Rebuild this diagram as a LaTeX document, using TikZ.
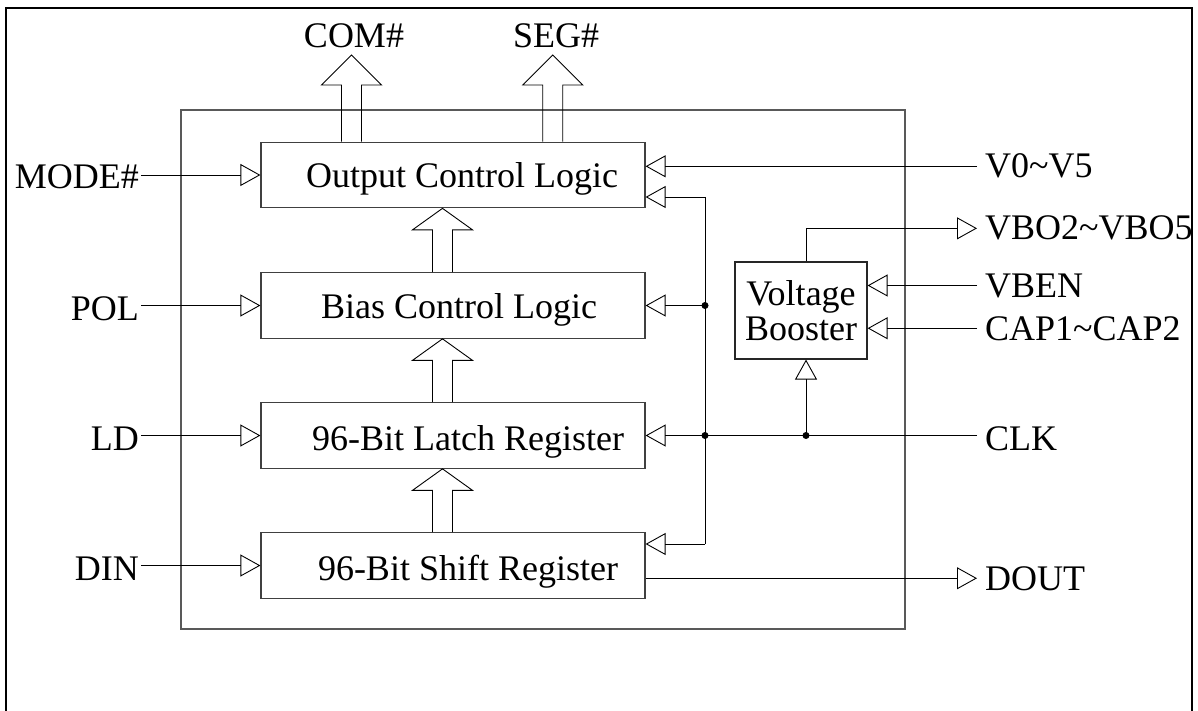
\documentclass[tikz,border=0pt]{standalone}
\usepackage{fontspec}
\setmainfont{Liberation Serif}
\usetikzlibrary{arrows.meta,calc}
\newcommand\fatarrow[3]{%
  \draw[fatline] ($(#1)+(-10,0)$) -- ($(#2)+(-10,#3)$) -- ($(#2)+(-30,#3)$) -- (#2)
    -- ($(#2)+(30,#3)$) -- ($(#2)+(10,#3)$) -- ($(#1)+(10,0)$);}
\begin{document}
\begin{tikzpicture}[x=1pt,y=-1pt,
  font=\fontsize{36}{35}\selectfont,
  blockbox/.style={draw=black!75, line width=1.2pt, minimum width=384pt, minimum height=65.5pt, inner sep=0pt},
  boostbox/.style={draw=black!85, line width=1.2pt, minimum width=132pt, minimum height=97pt, inner sep=0pt, align=center},
  chipbox/.style={draw=black!65, line width=1.2pt, minimum width=724pt, minimum height=519pt, inner sep=0pt},
  btext/.style={anchor=base, inner sep=0pt},
  llabel/.style={anchor=base east, inner sep=0pt, inner xsep=2pt},
  rlabel/.style={anchor=base west, inner sep=0pt, inner xsep=8pt},
  tri/.style={-{Triangle[open,length=20pt,width=22pt]}, line width=0.9pt},
  wire/.style={line width=0.9pt},
  fatline/.style={line width=0.9pt, line join=miter},
  dot/.style={fill=black}
]
\useasboundingbox (0,0) rectangle (1198,711);
% outer frame
\draw[line width=1.5pt] (6,711) -- (6,8) -- (1192,8) -- (1192,711);
% chip
\node[chipbox] (chip) at (543,369.5) {};
% blocks
\node[blockbox] (ocl) at (453,175) {};
\node[blockbox] (bias) at (453,305.5) {};
\node[blockbox] (latch) at (453,435.5) {};
\node[blockbox] (shift) at (453,565.5) {};
\node[btext] (tocl) at (462,188) {Output Control Logic};
\node[btext] (tbias) at (459,318) {Bias Control Logic};
\node[btext] (tlatch) at (468,450) {96-Bit Latch Register};
\node[btext] (tshift) at (468,580) {96-Bit Shift Register};
\node[boostbox] (vb) at (801,310.5) {Voltage\\Booster};
% left labels
\node[llabel] (mode) at (141,189) {MODE\#};
\node[llabel] (pol) at (141,320) {POL};
\node[llabel] (ld) at (141,450.7) {LD};
\node[llabel] (din) at (141,580) {DIN};
% right labels
\node[rlabel] (v05) at (977,178) {V0\textasciitilde V5};
\node[rlabel] (vbo) at (977,240) {VBO2\textasciitilde VBO5};
\node[rlabel] (vben) at (977,297) {VBEN};
\node[rlabel] (cap) at (977,340) {CAP1\textasciitilde CAP2};
\node[rlabel] (clk) at (977,450) {CLK};
\node[rlabel] (dout) at (977,590) {DOUT};
% top labels
\node[btext] (com) at (354,48) {COM\#};
\node[btext] (seg) at (556,48) {SEG\#};
% input arrows
\draw[tri] (mode.east |- ocl.west) -- (ocl.west);
\draw[tri] (pol.east |- bias.west) -- (bias.west);
\draw[tri] (ld.east |- latch.west) -- (latch.west);
\draw[tri] (din.east |- shift.west) -- (shift.west);
% fat arrows
\coordinate (comtip) at (351.5,55);
\coordinate (combase) at (ocl.north -| comtip);
\coordinate (segtip) at (552.7,55);
\coordinate (segbase) at (ocl.north -| segtip);
\fatarrow{combase}{comtip}{30}
\fatarrow{segbase}{segtip}{30}
\coordinate (b1) at ($(bias.north)+(-10.5,0)$);
\coordinate (t1) at ($(ocl.south)+(-10.5,0)$);
\coordinate (b2) at ($(latch.north)+(-10.5,0)$);
\coordinate (t2) at ($(bias.south)+(-10.5,0)$);
\coordinate (b3) at ($(shift.north)+(-10.5,0)$);
\coordinate (t3) at ($(latch.south)+(-10.5,0)$);
\fatarrow{b1}{t1}{21.5}
\fatarrow{b2}{t2}{21.5}
\fatarrow{b3}{t3}{21.5}
% bus
\coordinate (busT) at (705,197);
\coordinate (busB) at (705,544);
\coordinate (j1) at (bias.east -| busT);
\coordinate (j2) at (latch.east -| busT);
\coordinate (j3) at ($(j2)+(101,0)$);
\draw[tri] (busT) -- (ocl.east |- busT);
\draw[wire] (busT) -- (busB);
\draw[tri] (busB) -- (shift.east |- busB);
\draw[tri] (j1) -- (bias.east);
\draw[tri] (j2) -- (latch.east);
\draw[wire] (clk.west |- j2) -- (j2);
\fill[dot] (j1) circle (3.5pt);
\fill[dot] (j2) circle (3.5pt);
\fill[dot] (j3) circle (3.5pt);
% booster
\draw[tri] (j3) -- (vb.south -| j3);
\draw[tri] (vb.north -| j3) |- (vbo.west);
\draw[tri] (vben.west) -- (vb.east |- vben.west);
\draw[tri] (cap.west) -- (vb.east |- cap.west);
% others
\draw[tri] (v05.west) -- (ocl.east |- v05.west);
\draw[tri] (shift.east |- dout.west) -- (dout.west);
\end{tikzpicture}
\end{document}
